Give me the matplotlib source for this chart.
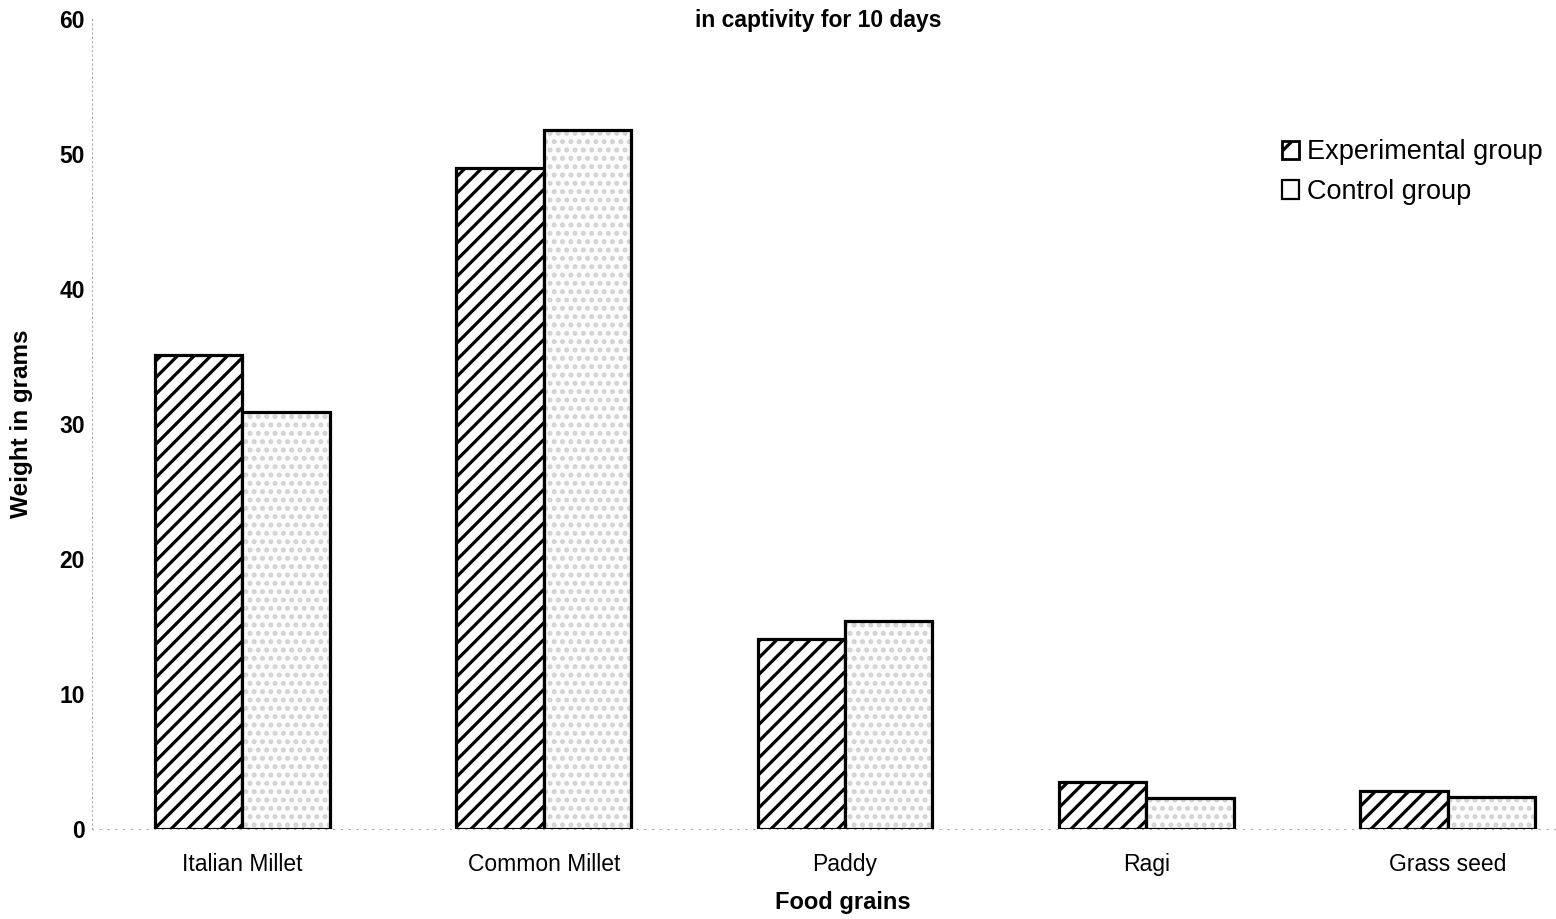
import numpy as np
import matplotlib
matplotlib.use('Agg')
import matplotlib.pyplot as plt
from matplotlib.patches import Patch

grains = ['Italian Millet', 'Common Millet', 'Paddy', 'Ragi', 'Grass seed']
experimental = [35.1, 49.0, 14.1, 3.5, 2.8]
control = [30.9, 51.8, 15.4, 2.3, 2.4]
yticks = [0, 10, 20, 30, 40, 50, 60]

plt.rcParams['font.family'] = ['Liberation Sans', 'DejaVu Sans']
plt.rcParams['hatch.linewidth'] = 2.3

fig = plt.figure(figsize=(15.56, 9.19), dpi=100)
ax = fig.add_axes([0.059, 0.098, 0.941, 0.881])

x = np.arange(len(grains))
w = 0.29

# experimental: diagonal hatch
ax.bar(x - w/2, experimental, w, facecolor='white', edgecolor='black',
       hatch='//', linewidth=2.3, zorder=3)
# control: light stipple, then black outline on top
ax.bar(x + w/2, control, w, facecolor='#fcfcfc', edgecolor='#d2d2d2',
       hatch='..', linewidth=0, zorder=3)
ax.bar(x + w/2, control, w, facecolor='none', edgecolor='black',
       linewidth=2.3, zorder=4)

ax.set_xlim(-0.5, 4.36)
ax.set_ylim(0, 60)
ax.set_yticks(yticks)
ax.set_xticks(x)
ax.set_xticklabels(grains, fontsize=16.5)
ax.tick_params(axis='y', labelsize=16.5, length=0, pad=5)
ax.tick_params(axis='x', length=0, pad=17)
for lab in ax.get_yticklabels():
    lab.set_fontweight('bold')

for s in ['top', 'right']:
    ax.spines[s].set_visible(False)
ax.spines['left'].set_color('#aaaaaa')
ax.spines['left'].set_linestyle((0, (1, 3)))
ax.spines['left'].set_linewidth(0.8)
ax.spines['bottom'].set_color('#aaaaaa')
ax.spines['bottom'].set_linestyle((0, (1, 6)))
ax.spines['bottom'].set_linewidth(0.8)

ax.set_xlabel('Food grains', fontsize=17, fontweight='bold')
ax.set_ylabel('Weight in grams', fontsize=17.5, fontweight='bold')
ax.xaxis.set_label_coords(0.513, -0.077)
ax.yaxis.set_label_coords(-0.04, 0.5)
fig.text(0.526, 0.978, 'in captivity for 10 days', ha='center', va='center',
         fontsize=16.5, fontweight='bold')

handles = [Patch(facecolor='white', edgecolor='black', hatch='/', linewidth=2),
           Patch(facecolor='#fcfcfc', edgecolor='black', linewidth=1.6)]
ax.legend(handles, ['Experimental group', 'Control group'], loc='upper left',
          bbox_to_anchor=(0.815, 0.863), bbox_transform=fig.transFigure,
          frameon=False, fontsize=19.5, borderpad=0,
          handlelength=0.65, handleheight=0.65, handletextpad=0.3, labelspacing=0.5)

fig.savefig('out.png', dpi=100, facecolor='white')
